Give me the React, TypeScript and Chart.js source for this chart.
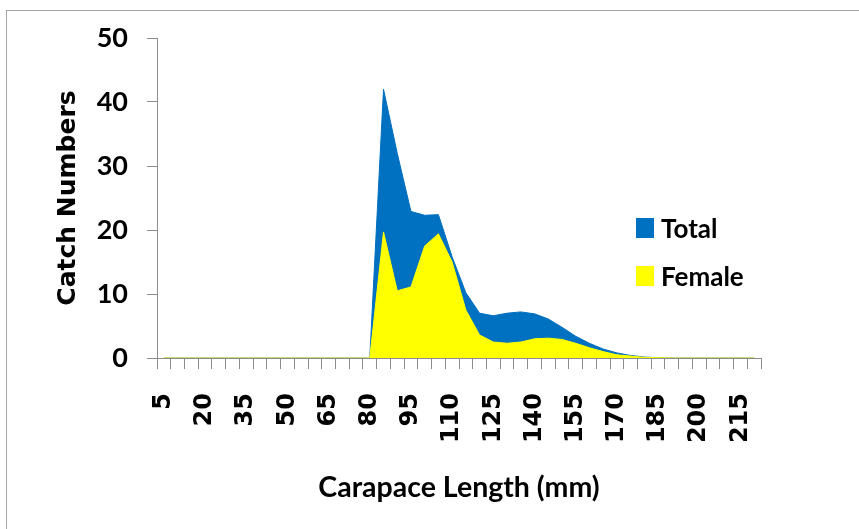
import React, { useEffect, useRef } from "react";
import { Chart, registerables } from "chart.js";

Chart.register(...registerables);

const categories = [
  "5", "10", "15", "20", "25", "30", "35", "40", "45", "50", "55", "60", "65", "70", "75",
  "80", "85", "90", "95", "100", "105", "110", "115", "120", "125", "130", "135", "140",
  "145", "150", "155", "160", "165", "170", "175", "180", "185", "190", "195", "200",
  "205", "210", "215", "220",
];

const totalValues = [
  0, 0, 0, 0, 0, 0, 0, 0, 0, 0, 0, 0, 0, 0, 0,
  0, 42, 32, 22.9, 22.3, 22.4, 15.8, 10.2, 7.0, 6.6, 7.0, 7.2, 6.9,
  6.1, 4.8, 3.4, 2.3, 1.4, 0.8, 0.4, 0.15, 0.05, 0, 0, 0,
  0, 0, 0, 0,
];

const femaleValues = [
  0, 0, 0, 0, 0, 0, 0, 0, 0, 0, 0, 0, 0, 0, 0,
  0, 19.7, 10.5, 11.1, 17.5, 19.4, 15.0, 7.5, 3.6, 2.5, 2.3, 2.5, 3.0,
  3.1, 2.9, 2.3, 1.6, 1.0, 0.5, 0.3, 0.1, 0.05, 0, 0, 0,
  0, 0, 0, 0,
];

const seriesNames = ["Total", "Female"];
const seriesColors = ["#0070C0", "#FFFF00"];
const yTitle = "Catch Numbers";
const xTitle = "Carapace Length (mm)";

const legendPlugin = {
  id: "customLegend",
  afterDraw(chart: any) {
    const ctx = chart.ctx;
    ctx.save();
    const items = [
      { name: seriesNames[0], color: seriesColors[0], top: 218 },
      { name: seriesNames[1], color: seriesColors[1], top: 266 },
    ];
    for (const it of items) {
      ctx.fillStyle = it.color;
      ctx.fillRect(636, it.top, 18, 20);
      ctx.fillStyle = "#000";
      ctx.font = "bold 26px Lato";
      ctx.textAlign = "left";
      ctx.textBaseline = "alphabetic";
      ctx.fillText(it.name, 661, it.top + 20);
    }
    ctx.restore();
  },
};

export default function App() {
  const ref = useRef<HTMLCanvasElement>(null);

  useEffect(() => {
    if (!ref.current) return;
    const gray = "#8c8c8c";
    const chart = new Chart(ref.current, {
      type: "line",
      data: {
        labels: categories,
        datasets: [
          {
            label: seriesNames[0],
            data: totalValues,
            backgroundColor: seriesColors[0],
            borderColor: seriesColors[0],
            borderWidth: 1,
            pointRadius: 0,
            fill: "origin",
            tension: 0,
            order: 1,
          },
          {
            label: seriesNames[1],
            data: femaleValues,
            backgroundColor: seriesColors[1],
            borderColor: seriesColors[1],
            borderWidth: 1,
            pointRadius: 0,
            fill: "origin",
            tension: 0,
            order: 0,
          },
        ],
      },
      options: {
        responsive: false,
        animation: false,
        layout: { padding: { left: 0, right: 98, top: 38, bottom: 0 } },
        plugins: {
          legend: { display: false },
          tooltip: { enabled: false },
        },
        scales: {
          x: {
            type: "category",
            offset: true,
            grid: {
              offset: true,
              drawOnChartArea: false,
              drawTicks: true,
              tickLength: 11,
              color: gray,
            },
            border: { display: true, color: gray, width: 1 },
            ticks: {
              autoSkip: false,
              minRotation: 90,
              maxRotation: 90,
              padding: 24,
              color: "#000",
              font: { family: "DejaVu Sans", weight: "bold", size: 24 },
              callback: (_v: any, i: number) => (i % 3 === 0 ? categories[i] : ""),
            },
            title: {
              display: true,
              text: xTitle,
              color: "#000",
              font: { family: "Lato", weight: "bold", size: 28.5 },
              padding: { top: 0, bottom: 24 },
            },
            afterFit: (scale: any) => {
              scale.height = 171;
            },
          },
          y: {
            min: 0,
            max: 50,
            ticks: {
              stepSize: 10,
              padding: 19,
              color: "#000",
              font: { family: "Lato", weight: "bold", size: 27 },
            },
            grid: {
              drawOnChartArea: false,
              drawTicks: true,
              tickLength: 10,
              color: gray,
            },
            border: { display: true, color: gray, width: 1 },
            title: {
              display: true,
              text: yTitle,
              color: "#000",
              font: { family: "DejaVu Sans", weight: "bold", size: 25 },
              padding: { top: 53, bottom: 0 },
            },
            afterFit: (scale: any) => {
              scale.width = 157;
            },
          },
        },
      },
      plugins: [legendPlugin],
    } as any);
    return () => chart.destroy();
  }, []);

  return (
    <div
      style={{
        position: "fixed",
        left: 0,
        top: 0,
        width: 859,
        height: 529,
        overflow: "hidden",
        background: "#fff",
      }}
    >
      <div
        style={{
          position: "absolute",
          left: 6,
          top: 10,
          width: 1000,
          height: 1000,
          border: "1px solid #a6a6a6",
        }}
      />
      <canvas
        ref={ref}
        width={859}
        height={529}
        style={{ position: "absolute", left: 0, top: 0, width: 859, height: 529 }}
      />
    </div>
  );
}
